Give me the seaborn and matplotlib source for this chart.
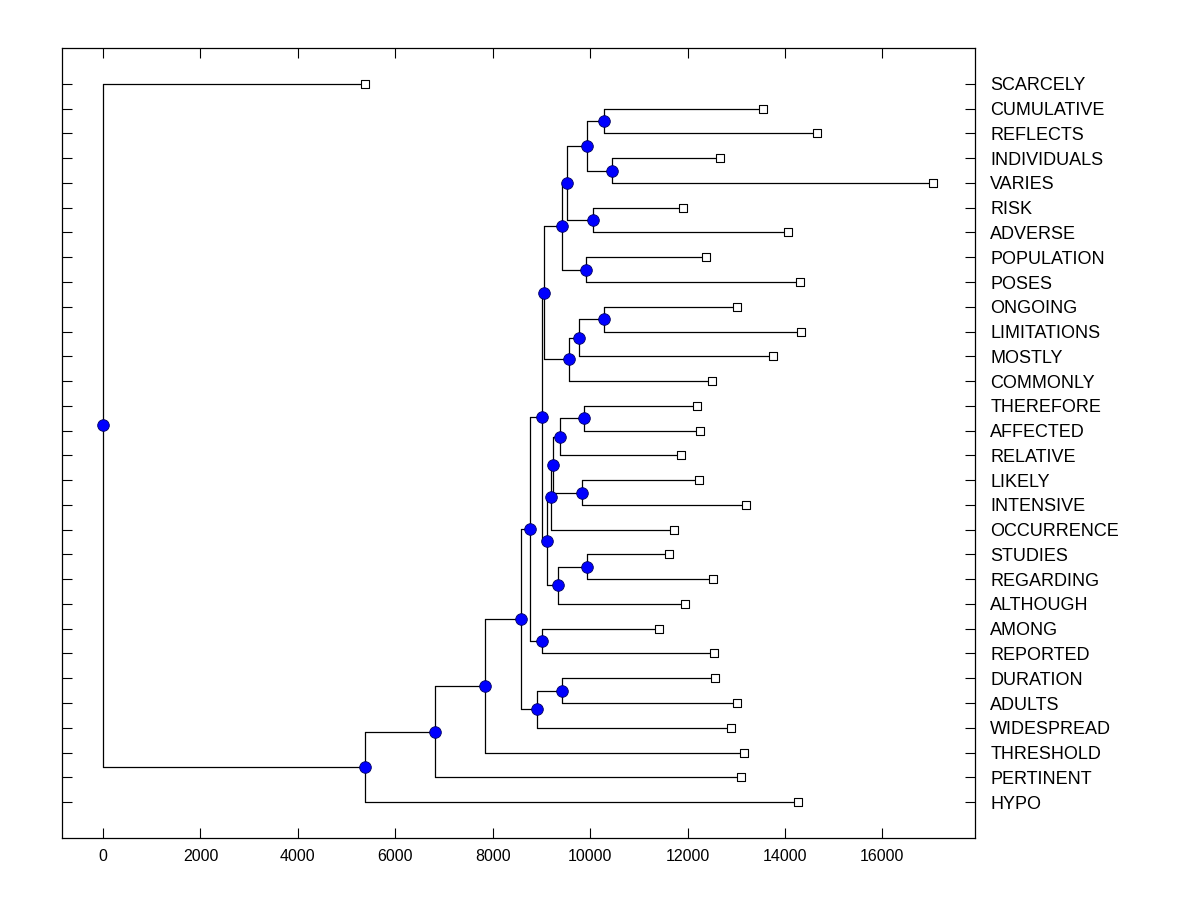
import numpy as np
import pandas as pd
import matplotlib
matplotlib.use("Agg")
import matplotlib.pyplot as plt
import seaborn as sns

# leaves, top to bottom, with their end value
leaves = ["SCARCELY", "CUMULATIVE", "REFLECTS", "INDIVIDUALS", "VARIES", "RISK",
          "ADVERSE", "POPULATION", "POSES", "ONGOING", "LIMITATIONS", "MOSTLY",
          "COMMONLY", "THEREFORE", "AFFECTED", "RELATIVE", "LIKELY", "INTENSIVE",
          "OCCURRENCE", "STUDIES", "REGARDING", "ALTHOUGH", "AMONG", "REPORTED",
          "DURATION", "ADULTS", "WIDESPREAD", "THRESHOLD", "PERTINENT", "HYPO"]
leaf_x = [5379, 13556, 14665, 12673, 17046, 11914,
          14069, 12386, 14316, 13022, 14336, 13761,
          12509, 12201, 12262, 11873, 12242, 13207,
          11729, 11626, 12530, 11955, 11421, 12550,
          12571, 13022, 12899, 13166, 13104, 14275]

# internal nodes: name, first child, second child, value
node_name = ["A", "C", "B", "E", "D", "G", "F", "K", "J", "I", "H",
             "P", "Q", "R", "T", "S", "V", "U", "M", "L", "X", "W",
             "AA", "Z", "Y", "BB", "CC", "DD", "ROOT"]
node_left = ["CUMULATIVE", "INDIVIDUALS", "A", "RISK", "B", "POPULATION", "D",
             "ONGOING", "K", "J", "F",
             "THEREFORE", "P", "LIKELY", "Q", "T", "STUDIES", "V", "S", "H",
             "AMONG", "L", "DURATION", "AA", "W", "Y", "BB", "CC", "SCARCELY"]
node_right = ["REFLECTS", "VARIES", "C", "ADVERSE", "E", "POSES", "G",
              "LIMITATIONS", "MOSTLY", "COMMONLY", "I",
              "AFFECTED", "RELATIVE", "INTENSIVE", "R", "OCCURRENCE", "REGARDING",
              "ALTHOUGH", "U", "M", "REPORTED", "X", "ADULTS", "WIDESPREAD", "Z",
              "THRESHOLD", "PERTINENT", "HYPO", "DD"]
node_x = [10292, 10444, 9943, 10054, 9532, 9922, 9429, 10292, 9778, 9573, 9060,
          9881, 9388, 9840, 9245, 9204, 9943, 9347, 9121, 9006, 9019, 8772,
          9429, 8904, 8588, 7849, 6816, 5379, 0]

xticks = [0, 2000, 4000, 6000, 8000, 10000, 12000, 14000, 16000]

# positions: leaves on rows, nodes halfway between children
pos = {}
for i, (n, v) in enumerate(zip(leaves, leaf_x)):
    pos[n] = (v, i + 1)
for n, l, r, v in zip(node_name, node_left, node_right, node_x):
    pos[n] = (v, (pos[l][1] + pos[r][1]) / 2)

segs = []
k = 0
for n, l, r in zip(node_name, node_left, node_right):
    x0, y0 = pos[n]
    segs += [(k, x0, pos[l][1]), (k, x0, pos[r][1])]
    k += 1
    for c in (l, r):
        segs += [(k, x0, pos[c][1]), (k, pos[c][0], pos[c][1])]
        k += 1
seg_df = pd.DataFrame(segs, columns=["seg", "x", "y"])

leaf_df = pd.DataFrame({"x": [pos[n][0] for n in leaves], "y": [pos[n][1] for n in leaves]})
node_df = pd.DataFrame({"x": [pos[n][0] for n in node_name], "y": [pos[n][1] for n in node_name]})

sns.set_style("white")
plt.rcParams['font.family'] = ['Liberation Sans', 'DejaVu Sans']

fig = plt.figure(figsize=(12, 9), dpi=100)
ax = fig.add_axes([0.0517, 0.0689, 0.7608, 0.8778])

sns.lineplot(data=seg_df, x="x", y="y", units="seg", estimator=None, sort=False,
             color="black", linewidth=0.9, ax=ax, zorder=1)
sns.scatterplot(data=leaf_df, x="x", y="y", marker="s", s=38, color="white",
                edgecolor="black", linewidth=0.8, ax=ax, zorder=3)
sns.scatterplot(data=node_df, x="x", y="y", marker="o", s=70, color="#0000ff",
                edgecolor="#000060", linewidth=0.6, ax=ax, zorder=3)

ax.set_xlim(-842, 17902)
ax.set_ylim(31.45, -0.45)
ax.set_xticks(xticks)
ax.set_xticklabels([str(t) for t in xticks], fontsize=11.5)
ax.set_yticks(range(1, len(leaves) + 1))
ax.set_yticklabels(leaves, fontsize=13)
ax.yaxis.tick_right()
ax.tick_params(axis="both", direction="in", length=7, width=0.8, colors="black",
               top=True, bottom=True, left=True, right=True)
ax.tick_params(axis="y", pad=11)
ax.tick_params(axis="x", pad=8)
ax.set_xlabel("")
ax.set_ylabel("")
for sp in ax.spines.values():
    sp.set_visible(True)
    sp.set_color("black")
    sp.set_linewidth(0.9)

fig.savefig("out.png", dpi=100, facecolor="white")
